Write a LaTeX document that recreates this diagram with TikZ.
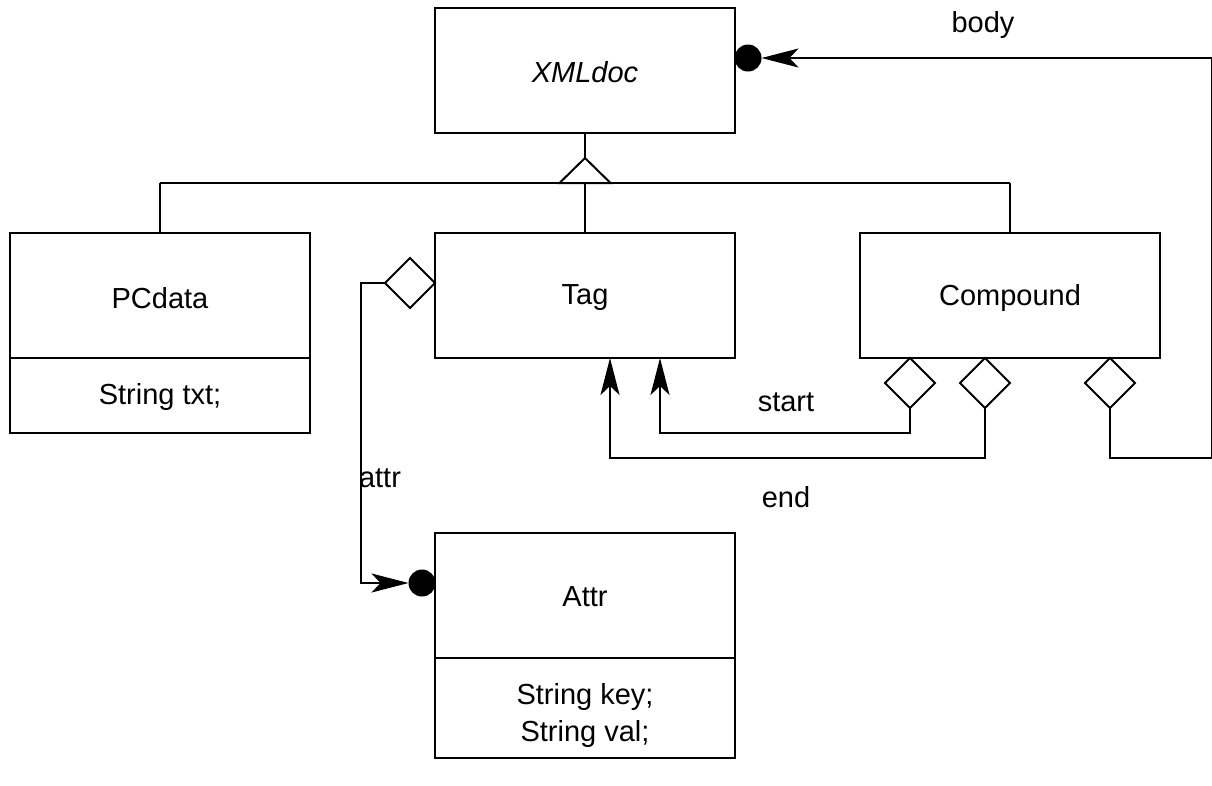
\documentclass[tikz,border=0pt]{standalone}
\usepackage{fontspec}
\setmainfont{Liberation Sans}
\usetikzlibrary{shapes.geometric,arrows.meta}
\begin{document}
\begin{tikzpicture}[x=1pt,y=-1pt,
  line width=2pt,
  every node/.style={font=\fontsize{29}{34}\selectfont},
  cls/.style={draw,rectangle,minimum width=300pt,inner sep=0pt,outer sep=0pt,anchor=north west},
  agg/.style={draw,diamond,aspect=1,minimum width=50pt,minimum height=50pt,inner sep=0pt,outer sep=0pt,fill=white},
  dot/.style={circle,fill=black,minimum size=27pt,inner sep=0pt,outer sep=0pt},
  arr/.style={-{Stealth[length=37pt,width=19pt,inset=9pt]}},
  lbl/.style={inner sep=0pt}]
\useasboundingbox (0,0) rectangle (1212,785);
% classes
\node[cls,minimum height=125pt] (xml) at (435,8) {};
\node at (585,72) {\itshape XMLdoc};
\node[cls,minimum height=125pt] (pcd) at (10,233) {};
\node[cls,minimum height=75pt] (pcdb) at (10,358) {};
\node at (160,298) {PCdata};
\node at (160,397) {String txt;};
\node[cls,minimum height=125pt] (tag) at (435,233) {};
\node at (585,298) {Tag};
\node[cls,minimum height=125pt] (cmp) at (860,233) {};
\node at (1010,298) {Compound};
\node[cls,minimum height=125pt] (attr) at (435,533) {};
\node[cls,minimum height=100pt] (attrb) at (435,658) {};
\node at (585,597) {Attr};
\node at (585,697) {String key;};
\node at (585,734) {String val;};
% inheritance
\coordinate (tri) at (585,158);
\draw (xml.south) -- (tri);
\draw (tri) -- ++(-25.5,25) -- ++(51,0) -- cycle;
\coordinate (bar) at (585,183);
\coordinate (barl) at (160,183);
\coordinate (barr) at (1010,183);
\draw (barl) -- (pcd.north);
\draw (barl) -- (barr);
\draw (bar) -- (tag.north);
\draw (barr) -- (cmp.north);
% aggregation diamonds
\node[agg] (d1) at (910,383) {};
\node[agg] (d2) at (985,383) {};
\node[agg] (d3) at (1110,383) {};
\node[agg] (da) at (410,283) {};
\node[dot] (bdot) at (748,58) {};
\node[dot] (adot) at (422,583) {};
% connectors
\draw[arr] (d1.south) |- (660,433) -- (tag.south -| 660,0);
\draw[arr] (d2.south) |- (610,458) -- (tag.south -| 610,0);
\draw[arr] (d3.south) |- (1212,458) |- (bdot.east);
\draw[arr] (da.west) -| (361,583) -- (adot.west);
% labels
\node[lbl] at (983,25) {body};
\node[lbl] at (786,402) {start};
\node[lbl] at (786,497) {end};
\node[lbl] at (380,478) {attr};
\end{tikzpicture}
\end{document}
